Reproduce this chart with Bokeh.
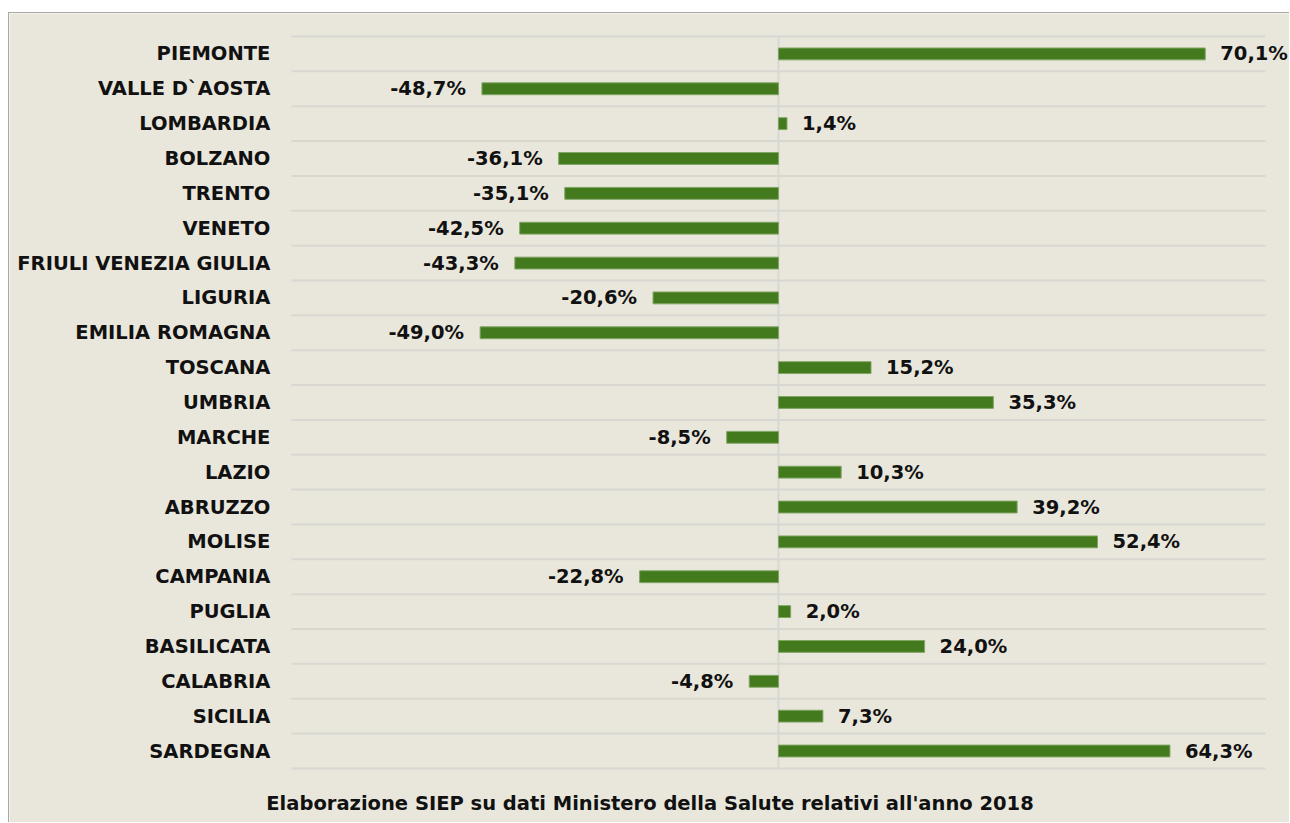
from bokeh.plotting import figure
from bokeh.models import ColumnDataSource, Range1d, Label
from bokeh.core.properties import value
from bokeh.embed import file_html
from bokeh.resources import INLINE

regions = ["PIEMONTE", "VALLE D`AOSTA", "LOMBARDIA", "BOLZANO", "TRENTO", "VENETO",
           "FRIULI VENEZIA GIULIA", "LIGURIA", "EMILIA ROMAGNA", "TOSCANA", "UMBRIA",
           "MARCHE", "LAZIO", "ABRUZZO", "MOLISE", "CAMPANIA", "PUGLIA", "BASILICATA",
           "CALABRIA", "SICILIA", "SARDEGNA"]
values = [70.1, -48.7, 1.4, -36.1, -35.1, -42.5, -43.3, -20.6, -49.0, 15.2, 35.3,
          -8.5, 10.3, 39.2, 52.4, -22.8, 2.0, 24.0, -4.8, 7.3, 64.3]
footer = "Elaborazione SIEP su dati Ministero della Salute relativi all'anno 2018"
axis_min, axis_max = -80, 80

FONT = "DejaVu Sans"
BG = "#E9E7DC"
GRID = "#D8D7D2"
GREEN = "#437A1D"
TXT = "#111111"

n = len(regions)
ypos = [n - 1 - i for i in range(n)]
labels = [("%.1f%%" % v).replace(".", ",") for v in values]
aligns = ["left" if v >= 0 else "right" for v in values]
offsets = [15 if v >= 0 else -16 for v in values]

src = ColumnDataSource(dict(y=ypos, v=values, lab=labels, align=aligns, off=offsets,
                            name=regions, x0=[axis_min] * n))

p = figure(width=1281, height=810, output_backend="svg", toolbar_location=None,
           x_axis_type=None, y_axis_type=None,
           x_range=Range1d(-126.3, 84.1), y_range=Range1d(-2.08, 21.16),
           min_border=0)
p.margin = (12, 0, 0, 8)
p.styles = {"border-left": "1px solid #A8A8A8", "border-top": "1px solid #A8A8A8"}
p.background_fill_color = BG
p.border_fill_color = BG
p.outline_line_color = None

# category separator lines (horizontal) and zero line
bounds = [k - 0.5 for k in range(n + 1)]
p.segment(x0=[axis_min] * len(bounds), x1=[axis_max] * len(bounds), y0=bounds, y1=bounds,
          line_color=GRID, line_width=2)
p.segment(x0=[0], x1=[0], y0=[-0.5], y1=[n - 0.5], line_color=GRID, line_width=2)

p.hbar(y="y", right="v", left=0, height=0.34, source=src, fill_color=GREEN,
       line_color="#80A563", line_width=1)

# value labels
p.text(x="v", y="y", text="lab", source=src, text_align="align", x_offset="off",
       text_baseline="middle", text_font=value(FONT), text_font_style="bold",
       text_font_size="19.5px", text_color=TXT)

# category labels
p.text(x="x0", y="y", text="name", source=src, text_align="right", x_offset=-21,
       text_baseline="middle", text_font=value(FONT), text_font_style="bold",
       text_font_size="19.5px", text_color=TXT)

foot = Label(x=640.5, y=20, x_units="screen", y_units="screen", text=footer,
             text_align="center", text_baseline="middle", text_font=FONT,
             text_font_style="bold", text_font_size="19.5px", text_color=TXT)
p.add_layout(foot)

open("out.html", "w").write(file_html(p, INLINE))
